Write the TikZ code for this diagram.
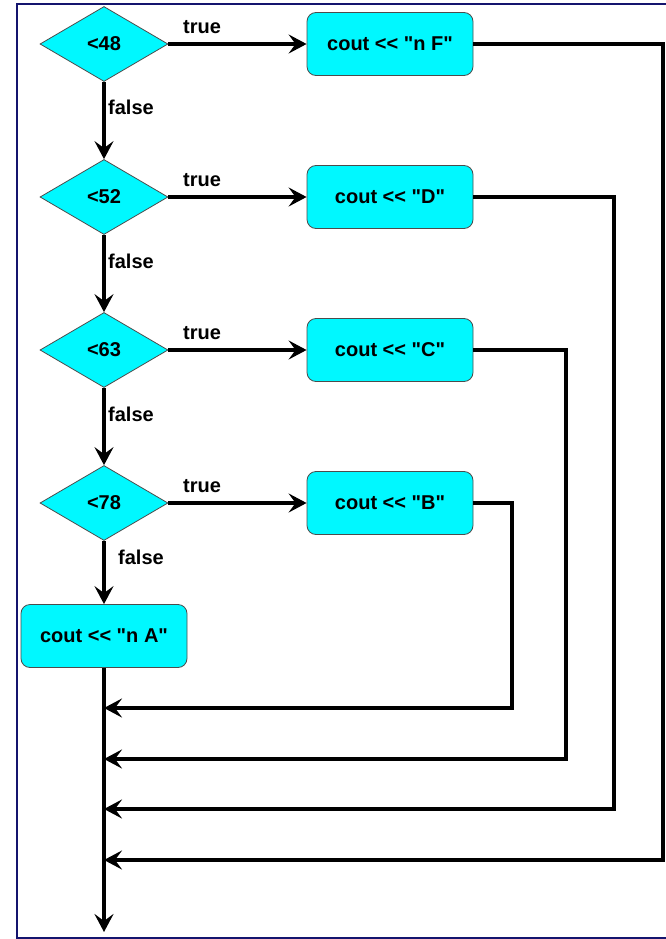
\documentclass[tikz,border=0pt]{standalone}
\usepackage{fontspec}
\setmainfont[Ligatures=TeXOff]{Liberation Sans}
\usetikzlibrary{shapes.geometric,arrows.meta}
\definecolor{boxcyan}{RGB}{0,248,255}
\definecolor{frame}{RGB}{20,20,110}
\begin{document}
\begin{tikzpicture}[x=1pt,y=-1pt,
  dec/.style={diamond,draw=black!70,line width=0.8pt,fill=boxcyan,minimum width=128pt,minimum height=75pt,inner sep=0pt,aspect=1.7,font=\fontsize{20}{24}\selectfont\bfseries},
  act/.style={rectangle,rounded corners=9pt,draw=black!70,line width=0.8pt,fill=boxcyan,minimum width=166pt,minimum height=63pt,inner sep=0pt,font=\fontsize{20}{24}\selectfont\bfseries},
  flow/.style={line width=3.2pt,-{Stealth[length=18pt,width=19pt,inset=7pt]}},
  lbl/.style={font=\fontsize{20}{24}\selectfont\bfseries,inner sep=0pt}]
\useasboundingbox (0,0) rectangle (666,939);
\fill[white] (0,0) rectangle (666,939);
\draw[frame,line width=1.3pt] (666,4) -- (17,4) -- (17,938) -- (666,938);
% decisions
\node[dec] (d1) at (104,44) {<48};
\node[dec] (d2) at (104,197) {<52};
\node[dec] (d3) at (104,350) {<63};
\node[dec] (d4) at (104,503) {<78};
% actions
\node[act] (bF) at (390,44) {cout << "n F"};
\node[act] (bD) at (390,197) {cout << "D"};
\node[act] (bC) at (390,350) {cout << "C"};
\node[act] (bB) at (390,503) {cout << "B"};
\node[act] (bA) at (104,636) {cout << "n A"};
% true arrows
\foreach \d/\b in {d1/bF,d2/bD,d3/bC,d4/bB}{
  \draw[flow] (\d.east) -- (\b.west);
}
\node[lbl] (t1) at (202,27) {true};
\node[lbl] (t2) at (202,180) {true};
\node[lbl] (t3) at (202,333) {true};
\node[lbl] (t4) at (202,486) {true};
% false arrows
\draw[flow] (d1.south) -- (d2.north);
\draw[flow] (d2.south) -- (d3.north);
\draw[flow] (d3.south) -- (d4.north);
\draw[flow] (d4.south) -- (bA.north);
\node[lbl] (f1) at (131,107) {false};
\node[lbl] (f2) at (131,261) {false};
\node[lbl] (f3) at (131,414) {false};
\node[lbl] (f4) at (141,557) {false};
% merge
\coordinate (mB) at (104,708);
\coordinate (mC) at (104,759);
\coordinate (mD) at (104,809);
\coordinate (mF) at (104,860);
\coordinate (end) at (104,932);
\draw[flow] (bB.east) -- (512,503) -- (512,708) -- (mB);
\draw[flow] (bC.east) -- (566,350) -- (566,759) -- (mC);
\draw[flow] (bD.east) -- (614,197) -- (614,809) -- (mD);
\draw[flow] (bF.east) -- (663,44) -- (663,860) -- (mF);
\draw[flow] (bA.south) -- (end);
\end{tikzpicture}
\end{document}
